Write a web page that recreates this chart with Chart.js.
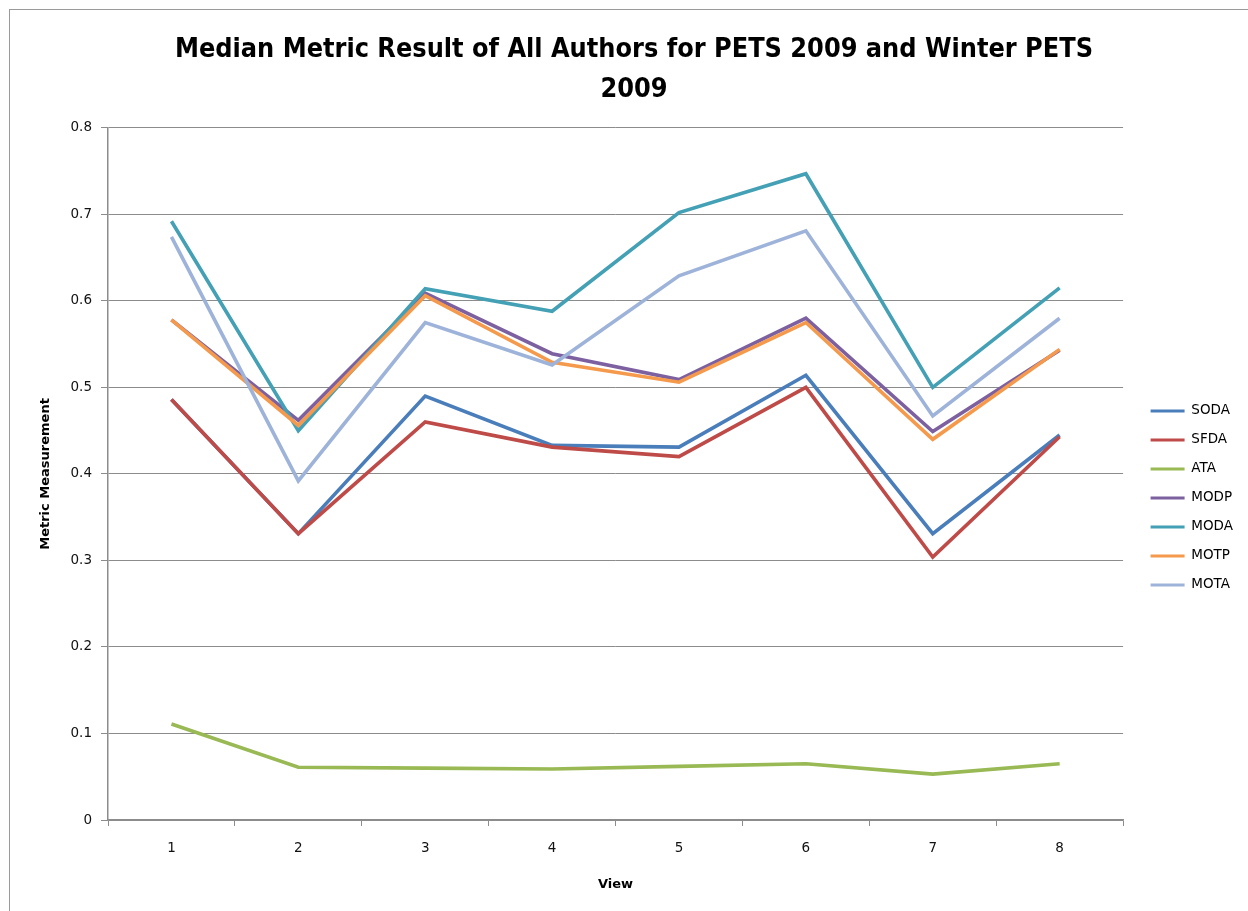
<!DOCTYPE html>
<html>
<head>
<meta charset="utf-8">
<script src="https://cdn.jsdelivr.net/npm/chart.js@4/dist/chart.umd.min.js"></script>
<style>
  html, body { margin: 0; padding: 0; background: #fff; overflow: hidden; width: 1248px; height: 911px; position: relative; }
  #frame { position: absolute; left: 9px; top: 9px; width: 1500px; height: 1200px;
           border-left: 1.5px solid #9a9a9a; border-top: 1.5px solid #9a9a9a; box-sizing: border-box; }
  #wrap { position: absolute; left: 0; top: 0; width: 1248px; height: 911px; }
</style>
</head>
<body>
<div id="frame"></div>
<div id="wrap"><canvas id="c" width="1248" height="911"></canvas></div>
<script>
// View numbers on the x axis
const views = ['1', '2', '3', '4', '5', '6', '7', '8'];

// Median metric values per view
const soda = [0.486, 0.331, 0.490, 0.433, 0.431, 0.514, 0.331, 0.445];
const sfda = [0.486, 0.331, 0.460, 0.431, 0.420, 0.500, 0.304, 0.443];
const ata  = [0.111, 0.061, 0.060, 0.059, 0.062, 0.065, 0.053, 0.065];
const modp = [0.578, 0.462, 0.609, 0.539, 0.509, 0.580, 0.449, 0.543];
const moda = [0.692, 0.450, 0.614, 0.588, 0.702, 0.747, 0.500, 0.615];
const motp = [0.578, 0.456, 0.606, 0.529, 0.506, 0.575, 0.440, 0.544];
const mota = [0.674, 0.392, 0.575, 0.526, 0.629, 0.681, 0.467, 0.580];

// Y axis tick labels
const yTickLabels = ['0', '0.1', '0.2', '0.3', '0.4', '0.5', '0.6', '0.7', '0.8'];

const seriesNames = ['SODA', 'SFDA', 'ATA', 'MODP', 'MODA', 'MOTP', 'MOTA'];
const seriesData = [soda, sfda, ata, modp, moda, motp, mota];
const seriesColors = ['#4A7EBB', '#BE4B48', '#98B954', '#7D60A0', '#43A0B5', '#F59A4C', '#9EB3DA'];

const datasets = seriesNames.map((name, i) => ({
  label: name,
  data: seriesData[i],
  borderColor: seriesColors[i],
  backgroundColor: seriesColors[i],
  borderWidth: 3.6,
  pointRadius: 0,
  pointHoverRadius: 0,
  tension: 0,
  fill: false,
  // later series sit on top of earlier ones
  order: seriesNames.length - i
}));

const tickFont = { family: 'DejaVu Sans', size: 13.5 };

new Chart(document.getElementById('c'), {
  type: 'line',
  data: { labels: views, datasets },
  options: {
    responsive: false,
    animation: false,
    events: [],
    layout: { padding: { left: 25, right: 5, top: 0, bottom: 0 } },
    plugins: {
      title: {
        display: true,
        text: ['Median Metric Result of All Authors for PETS 2009 and Winter PETS', '2009'],
        font: { family: "'Liberation Sans Narrow', 'DejaVu Sans Condensed', sans-serif", size: 26.8, weight: 'bold', lineHeight: 1.49 },
        color: '#000',
        padding: { top: 30, bottom: 18 }
      },
      legend: {
        position: 'right',
        fullSize: false,
        align: 'center',
        title: { display: true, text: ' ', font: { size: 20, lineHeight: 1.2 }, padding: 12 },
        labels: {
          boxWidth: 34,
          boxHeight: 3,
          padding: 15.5,
          color: '#000',
          font: { family: 'DejaVu Sans', size: 13.5 },
          sort: (a, b) => a.datasetIndex - b.datasetIndex,
          generateLabels(chart) {
            const items = Chart.defaults.plugins.legend.labels.generateLabels(chart);
            items.forEach(it => { it.lineWidth = 0; });
            return items;
          }
        }
      },
      tooltip: { enabled: false }
    },
    scales: {
      x: {
        type: 'category',
        offset: true,
        grid: { offset: true, drawOnChartArea: false, drawTicks: true, tickLength: 6, color: '#8c8c8c', lineWidth: 1 },
        border: { display: true, color: '#8c8c8c', width: 1.5 },
        ticks: { font: tickFont, color: '#111', padding: 14, maxRotation: 0 },
        title: { display: true, text: 'View', font: { family: 'DejaVu Sans', size: 13, weight: 'bold' }, color: '#000', padding: { top: 0, bottom: 19 } },
        afterFit(scale) { scale.height = 91; }
      },
      y: {
        min: 0,
        max: 0.8,
        ticks: {
          stepSize: 0.1,
          font: tickFont,
          color: '#111',
          padding: 9,
          callback: (v, i) => yTickLabels[i]
        },
        grid: { color: '#8c8c8c', lineWidth: 1, tickLength: 7, drawTicks: true },
        border: { display: true, color: '#8c8c8c', width: 1.5 },
        title: { display: true, text: 'Metric Measurement', font: { family: 'DejaVu Sans', size: 13, weight: 'bold' }, color: '#000', padding: { top: 13, bottom: 0 } },
        afterFit(scale) { scale.width = 83; }
      },
      // empty spacer column between the plot and the legend
      gap: {
        type: 'linear',
        position: 'right',
        display: true,
        grid: { display: false },
        border: { display: false },
        ticks: { display: false },
        afterFit(scale) { scale.width = 12; }
      }
    }
  }
});
</script>
</body>
</html>
